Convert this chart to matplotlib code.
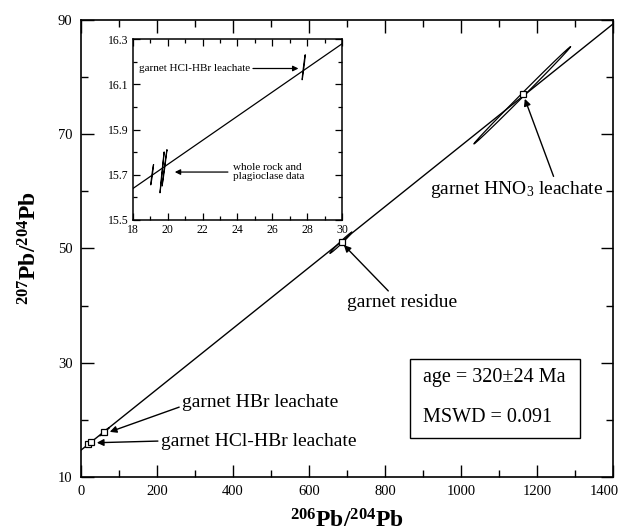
import matplotlib
matplotlib.use('Agg')
import matplotlib.pyplot as plt
from matplotlib.patches import Rectangle
from matplotlib.ticker import MultipleLocator
from matplotlib.transforms import ScaledTranslation
import numpy as np

plt.rcParams['font.family'] = 'Liberation Serif'
plt.rcParams['mathtext.fontset'] = 'custom'
plt.rcParams['mathtext.rm'] = 'Liberation Serif'
plt.rcParams['mathtext.bf'] = 'Liberation Serif:bold'
plt.rcParams['mathtext.it'] = 'Liberation Serif:italic'

# isochron (207Pb/204Pb = intercept + slope * 206Pb/204Pb)
iso_intercept = 14.68
iso_slope = 0.0533

# measured points (squares)
pb206 = [19.5, 27.8, 62, 688, 1163]
pb207 = [15.72, 16.17, 17.9, 51.2, 77.1]

# error ellipses: centre x, centre y, half range x, half range y, correlation
main_ell_x = [62, 684, 1161]
main_ell_y = [17.9, 51.0, 76.8]
main_ell_dx = [12, 29, 127]
main_ell_dy = [0.7, 1.85, 8.5]
main_ell_rho = [0.99, 0.99, 0.999]

inset_ell_x = [19.1, 19.67, 19.81, 27.8]
inset_ell_y = [15.70, 15.71, 15.73, 16.175]
inset_ell_dx = [0.08, 0.12, 0.14, 0.09]
inset_ell_dy = [0.045, 0.09, 0.08, 0.055]
inset_ell_rho = [0.98, 0.995, 0.995, 0.98]

main_xticks = [0, 200, 400, 600, 800, 1000, 1200, 1400]
main_yticks = [10, 30, 50, 70, 90]
main_yminor = [20, 40, 60, 80]
inset_yticks = [15.5, 15.7, 15.9, 16.1, 16.3]


def ellipse(ax, cx, cy, dx, dy, rho, lw=0.9):
    t = np.linspace(0, 2 * np.pi, 200)
    x = cx + dx * np.cos(t)
    y = cy + dy * (rho * np.cos(t) + np.sqrt(1 - rho ** 2) * np.sin(t))
    ax.plot(x, y, color='black', lw=lw)


fig = plt.figure(figsize=(6.22, 5.32), dpi=100)
ax = fig.add_axes([0.130, 0.1034, 0.8555, 0.859])

xs = np.array([0, 1400])
ax.plot(xs, iso_intercept + iso_slope * xs, color='black', lw=1.0)
for i in range(len(main_ell_x)):
    ellipse(ax, main_ell_x[i], main_ell_y[i], main_ell_dx[i], main_ell_dy[i], main_ell_rho[i])
ax.plot(pb206, pb207, 's', ms=4.5, mfc='white', mec='black', mew=0.9)

ax.set_xlim(0, 1400)
ax.set_ylim(10, 90)
ax.set_xticks(main_xticks)
ax.xaxis.set_minor_locator(MultipleLocator(100))
ax.set_yticks(main_yticks)
ax.set_yticks(main_yminor, minor=True)
ax.tick_params(which='both', direction='in', top=True, right=True, labelsize=10.5, width=1.0)
ax.tick_params(which='major', length=9, pad=6)
ax.tick_params(which='minor', length=5)
for s in ax.spines.values():
    s.set_linewidth(1.2)
# keep the last x label inside the figure
last = ax.get_xticklabels()[-1]
last.set_transform(last.get_transform() + ScaledTranslation(-6 / 72, 0, fig.dpi_scale_trans))

ax.set_xlabel(r'$\mathbf{^{206}Pb/^{204}Pb}$', fontsize=17, labelpad=8)
ax.set_ylabel(r'$\mathbf{^{207}Pb/^{204}Pb}$', fontsize=17, labelpad=12)

arrow = dict(arrowstyle='-|>', color='black', lw=1.0, mutation_scale=10, shrinkA=0, shrinkB=0)
ax.annotate('garnet residue', xy=(692, 50.6), xytext=(700, 40.6), fontsize=14,
            ha='left', va='center', arrowprops=dict(arrow, relpos=(0.4, 1.0)))
ax.annotate('garnet HNO$_3$ leachate', xy=(1168, 76.2), xytext=(918, 60.3), fontsize=14,
            ha='left', va='center', arrowprops=dict(arrow, relpos=(0.72, 1.0)))
ax.annotate('garnet HBr leachate', xy=(76, 17.9), xytext=(266, 23.0), fontsize=14,
            ha='left', va='center', arrowprops=dict(arrow, relpos=(0.0, 0.3)))
ax.annotate('garnet HCl-HBr leachate', xy=(42, 16.0), xytext=(210, 16.3), fontsize=14,
            ha='left', va='center', arrowprops=dict(arrow, relpos=(0.0, 0.5)))

ax.add_patch(Rectangle((866, 16.8), 447, 13.9, fill=False, ec='black', lw=1.0))
ax.text(900, 27.4, 'age = 320\u00b124 Ma', fontsize=14.5, ha='left', va='center')
ax.text(900, 20.4, 'MSWD = 0.091', fontsize=14.5, ha='left', va='center')

# inset
ins = fig.add_axes([0.2138, 0.5865, 0.336, 0.340])
xi = np.array([18, 30])
ins.plot(xi, iso_intercept + iso_slope * xi, color='black', lw=0.9)
for i in range(len(inset_ell_x)):
    ellipse(ins, inset_ell_x[i], inset_ell_y[i], inset_ell_dx[i], inset_ell_dy[i], inset_ell_rho[i], lw=0.8)
ins.set_xlim(18, 30)
ins.set_ylim(15.5, 16.3)
ins.xaxis.set_major_locator(MultipleLocator(2))
ins.xaxis.set_minor_locator(MultipleLocator(1))
ins.set_yticks(inset_yticks)
ins.yaxis.set_minor_locator(MultipleLocator(0.1))
ins.tick_params(which='both', direction='in', top=True, right=True, labelsize=8.5, width=0.9, pad=3)
ins.tick_params(which='major', length=5)
ins.tick_params(which='minor', length=3)
for s in ins.spines.values():
    s.set_linewidth(1.1)

small_arrow = dict(arrowstyle='-|>', color='black', lw=0.9, mutation_scale=8, shrinkA=0, shrinkB=0)
ins.annotate('garnet HCl-HBr leachate', xy=(27.5, 16.17), xytext=(18.35, 16.17), fontsize=8,
             ha='left', va='center', arrowprops=dict(small_arrow, relpos=(1.0, 0.5)))
ins.annotate('', xy=(20.4, 15.712), xytext=(23.45, 15.712), arrowprops=small_arrow)
ins.text(23.75, 15.712, 'whole rock and\nplagioclase data', fontsize=8, ha='left', va='center',
         linespacing=0.95)

fig.savefig('out.png', dpi=100)
